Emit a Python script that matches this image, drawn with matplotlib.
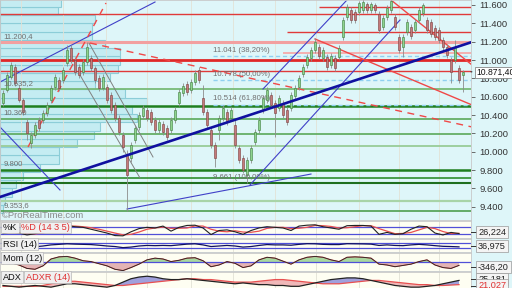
import matplotlib
matplotlib.use('Agg')
import matplotlib.pyplot as plt
import numpy as np

plt.rcParams['font.family'] = ['Liberation Sans', 'DejaVu Sans']

# ============================================================
# data
# ============================================================
opens = [10531, 10673, 10815, 10924, 10695, 10564, 10324, 10095, 10182, 10346,
         10346, 10422, 10564, 10706, 10782, 10782, 10967, 11131, 11000, 10924,
         10869, 10978, 11022, 10913, 10804, 10695, 10706, 10619, 10510, 10368,
         10182, 9964, 9932, 10128, 10270, 10390, 10455, 10433, 10346, 10237,
         10302, 10259, 10237, 10346, 10531, 10640, 10738, 10673, 10760, 10891,
         10586, 10433, 10237, 10073, 10237, 10368, 10433, 10368, 10292, 10041,
         9932, 9747, 9910, 10106, 10237, 10455, 10564, 10619, 10531, 10477,
         10531, 10455, 10477, 10608, 10706, 10847, 10946, 11022, 11109, 11142,
         11022, 11033, 10946, 11022, 11033, 11251, 11469, 11545, 11523, 11523,
         11545, 11610, 11545, 11600, 11501, 11360, 11469, 11545, 11469, 11251,
         11142, 11305, 11360, 11327, 11436, 11512, 11436, 11414, 11349, 11327,
         11218, 11142, 11000, 11000, 10913, 10836]
closes = [10640, 10836, 10946, 10749, 10564, 10433, 10204, 10182, 10292, 10259,
          10422, 10510, 10695, 10815, 10695, 10891, 11109, 11000, 10869, 10836,
          10978, 11142, 10913, 10782, 10695, 10815, 10564, 10455, 10368, 10215,
          10052, 9747, 10073, 10259, 10401, 10477, 10368, 10324, 10237, 10324,
          10215, 10161, 10346, 10455, 10651, 10717, 10651, 10760, 10858, 10782,
          10433, 10292, 10073, 9932, 10368, 10477, 10324, 10455, 10073, 9910,
          9801, 9910, 10041, 10215, 10346, 10586, 10673, 10510, 10422, 10586,
          10401, 10324, 10619, 10695, 10804, 10924, 11033, 11109, 11196, 11044,
          11109, 10924, 11044, 10913, 11131, 11436, 11578, 11436, 11436, 11621,
          11632, 11545, 11610, 11545, 11327, 11458, 11567, 11643, 11360, 11109,
          11251, 11414, 11262, 11414, 11545, 11600, 11327, 11283, 11251, 11218,
          11142, 11055, 10869, 11142, 10782, 10871.4]
highs = [10673, 10869, 10978, 10956, 10728, 10586, 10368, 10215, 10324, 10379,
         10455, 10542, 10728, 10847, 10815, 10924, 11164, 11164, 11033, 10956,
         11011, 11196, 11055, 10935, 10836, 10847, 10738, 10651, 10542, 10401,
         10215, 10019, 10106, 10292, 10433, 10510, 10488, 10466, 10379, 10357,
         10335, 10292, 10379, 10488, 10684, 10749, 10771, 10793, 10891, 10924,
         10728, 10466, 10270, 10106, 10401, 10510, 10466, 10488, 10346, 10073,
         9964, 9943, 10073, 10248, 10379, 10619, 10706, 10651, 10564, 10619,
         10564, 10488, 10651, 10728, 10836, 10956, 11065, 11142, 11240, 11174,
         11142, 11065, 11076, 11055, 11164, 11469, 11610, 11578, 11556, 11643,
         11654, 11632, 11632, 11621, 11534, 11490, 11600, 11654, 11501, 11283,
         11283, 11447, 11392, 11447, 11578, 11621, 11469, 11447, 11381, 11360,
         11251, 11174, 11033, 11218, 10946, 10891]
lows = [10499, 10651, 10793, 10717, 10542, 10401, 10128, 10041, 10150, 10226,
        10313, 10390, 10531, 10673, 10662, 10749, 10935, 10967, 10836, 10804,
        10836, 10946, 10880, 10749, 10662, 10673, 10531, 10422, 10335, 10182,
        9997, 9353.6, 9888, 10095, 10237, 10357, 10335, 10292, 10204, 10204,
        10182, 10128, 10204, 10313, 10499, 10608, 10619, 10640, 10728, 10749,
        10401, 10259, 10041, 9834, 10128, 10335, 10292, 10335, 10041, 9877,
        9768, 9661, 9877, 10073, 10204, 10422, 10531, 10477, 10161, 10444,
        10368, 10292, 10444, 10575, 10673, 10815, 10913, 10989, 11076, 11011,
        10989, 10891, 10913, 10880, 11000, 11218, 11436, 11403, 11403, 11490,
        11512, 11512, 11512, 11512, 11294, 11327, 11436, 11512, 11327, 11076,
        11033, 11273, 11229, 11294, 11403, 11480, 11294, 11251, 11218, 11185,
        11109, 11022, 10749, 10967, 10749, 10651]

# volume by price (bins of 90 points starting at 9330)
vol_bin_low = 9330
vol_bin_size = 90
vol_sizes = [3, 5, 12, 16, 23, 40, 59, 59, 77, 94, 100, 137, 132, 147, 125,
             95, 110, 118, 120, 120, 105, 92, 92, 95, 58, 61]

# horizontal resistance / support levels: (price, first candle)
res_levels = [11578, 11500, 11300, 11200, 11080, 11000, 10880]
res_start = [79, -1, 71, -1, 70, -1, -1]
res_colors = ['#e03a3a', '#e03a3a', '#e03a3a', '#f2a0a0', '#f4b0b0', '#e02828', '#e03a3a']
res_widths = [1.0, 1.0, 1.0, 2.2, 1.4, 2.0, 1.0]

sup_levels = [10680, 10500, 10360, 10190, 10060, 9800, 9715, 9660, 9465, 9354]
sup_colors = ['#78bb78', '#1f7f1f', '#5aa85a', '#5aa85a', '#98cc98', '#1f7f1f',
              '#2f8f2f', '#1f6f1f', '#a8d4a8', '#4f9f4f']
sup_widths = [1.3, 1.8, 1.2, 1.2, 1.3, 1.8, 1.2, 1.5, 1.6, 1.2]

fib_levels = [11041, 10778, 10514]
fib_labels = ['11.041 (38,20%)', '10.778 (50,00%)', '10.514 (61,80%)', '9.661 (100,00%)']
fib_label_prices = [11041, 10778, 10514, 9661]
fib_start = 52.5

left_labels = ['11.200,4', '10.635,2', '10.360', '9.800', '9.353,6']
left_label_prices = [11200, 10680, 10360, 9800, 9354]

# trend lines: (candle0, price0, candle1, price1)
blue_thin = [(-0.75, 10760, 38, 11632),
             (-0.75, 10270, 14.25, 9583),
             (31, 9376, 77, 9757),
             (61.75, 9638, 99.25, 11436),
             (65, 10684, 86, 11654)]
blue_thick = [(-0.75, 9507, 117.25, 11196)]
gray_lines = [(21.5, 11185, 37.5, 9943),
              (19.25, 10836, 34.25, 9714)]
red_dashed = [(6.25, 10052, 25.75, 11621),
              (21.75, 11185, 117.25, 10270)]
red_solid = [(78, 11229, 117.25, 10510),
             (97, 11654, 117.25, 10946)]

month_idx = [4.5, 15, 25.75, 36, 47, 57.5, 68, 78.25, 89, 99, 109]
price_ticks = [9400, 9600, 9800, 10000, 10200, 10400, 10600, 10800, 11000, 11200, 11400, 11600]

# indicators, one value every 2 candles
stoch_k = [25, 40, 30, 15, 25, 45, 70, 85, 90, 80, 75, 60, 45, 30, 10, 8, 40, 65, 75, 70,
           85, 45, 75, 90, 92, 70, 18, 50, 55, 40, 20, 50, 70, 80, 75, 70, 50, 85, 92, 95,
           80, 70, 60, 88, 90, 90, 85, 20, 35, 20, 25, 60, 85, 80, 30, 15, 35, 26]
stoch_d = [30, 33, 32, 25, 23, 30, 48, 68, 82, 85, 80, 72, 60, 45, 30, 16, 20, 38, 60, 70,
           77, 67, 68, 70, 86, 85, 60, 45, 40, 48, 38, 36, 45, 67, 75, 75, 65, 68, 75, 90,
           88, 82, 70, 72, 80, 88, 88, 65, 45, 25, 27, 35, 55, 75, 65, 42, 26, 28]
rsi = [45, 55, 45, 35, 38, 45, 55, 60, 65, 62, 60, 58, 52, 45, 40, 30, 35, 45, 50, 48,
       50, 48, 55, 62, 65, 55, 40, 45, 50, 45, 35, 40, 50, 58, 55, 55, 52, 60, 66, 65,
       60, 58, 58, 66, 65, 64, 62, 50, 55, 50, 48, 55, 60, 55, 48, 42, 40, 37]
mom = [-150, -50, -300, -700, -800, -400, 400, 650, 700, 500, 200, 100, -150, -400, -800,
       -950, -600, -200, 300, 500, 400, 100, 250, 500, 550, 200, -500, -300, 100, -100,
       -600, -400, 300, 600, 500, 150, -200, 300, 600, 700, 600, 300, 100, 600, 650,
       600, 500, -200, -300, -500, -350, -200, 100, 300, -300, -600, -700, -346]
adx = [20, 19, 18, 19, 20, 19, 18, 20, 22, 22, 21, 20, 19, 18, 20, 24, 28, 30, 31, 30,
       28, 27, 27, 28, 27, 26, 25, 24, 23, 22, 23, 22, 21, 21, 20, 20, 19, 19, 21, 23,
       25, 27, 28, 29, 29, 28, 26, 24, 22, 20, 19, 18, 18, 19, 20, 22, 24, 26]
adxr = [19, 19, 19, 19, 19, 20, 22, 24, 25, 25, 24, 23, 22, 21, 20, 20, 21, 22, 23, 24,
        25, 26, 27, 28, 28, 27, 27, 26, 25, 24, 24, 24, 25, 26, 27, 27, 26, 25, 24, 23,
        22, 22, 22, 23, 24, 25, 26, 26, 25, 24, 23, 22, 21, 21, 20, 20, 20.5, 21]

# ============================================================
# layout helpers (pixel boxes on a 512x288 canvas)
# ============================================================
W, H = 512, 288
IVORY = '#fefef2'


def rect(x0, y0, x1, y1):
    return [x0 / W, 1 - y1 / H, (x1 - x0) / W, (y1 - y0) / H]


def fmt_price(v):
    return f'{v:,.0f}'.replace(',', '.')


fig = plt.figure(figsize=(W / 100, H / 100), dpi=100)
fig.patch.set_facecolor('#def6f9')

XMIN, XMAX = -0.75, 117
YMIN, YMAX = 9256, 11654

# volume profile behind the price chart
vp = fig.add_axes(rect(0, 0, 471, 220), label='vp')
vp.set_facecolor(IVORY)
bins = vol_bin_low + vol_bin_size * np.arange(len(vol_sizes))
vp.barh(bins, vol_sizes, height=vol_bin_size, align='edge', color='#c4ecf2',
        edgecolor='#8ccdd8', linewidth=0.8)
vp.set_xlim(0, 471)
vp.set_ylim(YMIN, YMAX)
vp.axis('off')

ax = fig.add_axes(rect(0, 0, 471, 220), label='main')
ax.set_facecolor('none')
ax.set_xlim(XMIN, XMAX)
ax.set_ylim(YMIN, YMAX)

for m in month_idx:
    ax.axvline(m, color='#e2e2d6', lw=0.6, zorder=0)

# horizontal levels
for p, s, c, w in zip(res_levels, res_start, res_colors, res_widths):
    ax.hlines(p, s, XMAX, colors=c, lw=w, zorder=1)
for p, c, w in zip(sup_levels, sup_colors, sup_widths):
    ax.hlines(p, XMIN, XMAX, colors=c, lw=w, zorder=1)
for p in fib_levels:
    ax.hlines(p, fib_start, XMAX, colors='#8fd0f0', lw=1.0, linestyles=(0, (3, 2)), zorder=1)
for t, p in zip(fib_labels, fib_label_prices):
    ax.text(fib_start, p + 25, t, fontsize=5.6, color='#707070', va='bottom', ha='left', zorder=6)
for t, p in zip(left_labels, left_label_prices):
    ax.text(0.2, p + 20, t, fontsize=5.6, color='#707070', va='bottom', ha='left', zorder=6)

# trend lines
for x0, y0, x1, y1 in blue_thin:
    ax.plot([x0, x1], [y0, y1], color='#4040c8', lw=0.8, zorder=2)
for x0, y0, x1, y1 in blue_thick:
    ax.plot([x0, x1], [y0, y1], color='#1010a0', lw=1.9, zorder=5)
for x0, y0, x1, y1 in gray_lines:
    ax.plot([x0, x1], [y0, y1], color='#808080', lw=0.7, zorder=2)
for x0, y0, x1, y1 in red_dashed:
    ax.plot([x0, x1], [y0, y1], color='#f04848', lw=1.0, dashes=(5, 4), zorder=2)
for x0, y0, x1, y1 in red_solid:
    ax.plot([x0, x1], [y0, y1], color='#f04848', lw=1.0, zorder=2)

# candles
o = np.array(opens, float)
c = np.array(closes, float)
idx = np.arange(len(c))
up = c >= o
ax.vlines(idx, lows, highs, color='#8c8c8c', lw=0.6, zorder=3)
ax.bar(idx[up], (c - o)[up], bottom=o[up], width=0.62, color='#8ed48e',
       edgecolor='#3c7a3c', lw=0.4, zorder=4)
ax.bar(idx[~up], (c - o)[~up], bottom=o[~up], width=0.62, color='#c47a7a',
       edgecolor='#7a3c3c', lw=0.4, zorder=4)

ax.text(0.004, 0.0, '\u00a9ProRealTime.com', transform=ax.transAxes, fontsize=6.8,
        color='#8a8a8a', va='bottom', ha='left')

ax.set_xticks([])
ax.yaxis.tick_right()
ax.set_yticks(price_ticks)
ax.set_yticklabels([fmt_price(v) for v in price_ticks])
ax.tick_params(axis='y', length=3, width=0.6, color='#555555', labelsize=6.8,
               labelcolor='#333333', pad=3)
for sp in ax.spines.values():
    sp.set_color('#c8c8c8')
    sp.set_linewidth(0.6)

# current price box
last = closes[-1]
last_txt = f'{last:,.2f}'.replace(',', 'X').replace('.', ',').replace('X', '.')
ax.annotate(last_txt, xy=(XMAX, last), xycoords='data', xytext=(476, H - 72.5),
            textcoords='figure pixels', fontsize=6.2, color='#111111', va='center', ha='left',
            annotation_clip=False,
            bbox=dict(boxstyle='square,pad=0.12', fc='#ffffff', ec='#888888', lw=0.6),
            arrowprops=dict(arrowstyle='-', color='#222222', lw=0.8), zorder=10)


# ============================================================
# indicator panels
# ============================================================
ix = np.arange(0, len(closes), 2)[:len(stoch_k)]


def panel(y0, y1, ylim):
    a = fig.add_axes(rect(0, y0, 471, y1))
    a.set_facecolor(IVORY)
    a.set_xlim(XMIN, XMAX)
    a.set_ylim(*ylim)
    a.set_xticks([])
    a.set_yticks([])
    for m in month_idx:
        a.axvline(m, color='#e2e2d6', lw=0.6, zorder=0)
    for sp in a.spines.values():
        sp.set_color('#c8c8c8')
        sp.set_linewidth(0.6)
    return a


def tag(a, parts, y=0.5):
    x = 0.006
    for text, col in parts:
        t = a.text(x, y, text, transform=a.transAxes, fontsize=6.6, color=col, va='center',
                   ha='left', zorder=8,
                   bbox=dict(boxstyle='square,pad=0.15', fc='#f0f0f0', ec='#b8b8b8', lw=0.5))
        fig.canvas.draw()
        bb = t.get_window_extent()
        x = a.transAxes.inverted().transform((bb.x1 + 4, 0))[0]


def value_box(y, text, col='#222222'):
    fig.text(478 / W, 1 - y / H, text, fontsize=6.6, color=col, va='center', ha='left',
             bbox=dict(boxstyle='square,pad=0.18', fc='#f4f4f4', ec='#999999', lw=0.5))
    fig.add_artist(plt.Line2D([471 / W, 476 / W], [1 - y / H, 1 - y / H], color='#333333', lw=0.7))


s_ax = panel(221, 238, (-9, 125))
s_ax.axhline(80, color='#5050d8', lw=0.9)
s_ax.axhline(20, color='#5050d8', lw=0.9)
s_ax.plot(ix, stoch_d, color='#e85050', lw=0.9)
s_ax.plot(ix, stoch_k, color='#222222', lw=0.8)
tag(s_ax, [('%K', '#111111'), ('%D (14 3 5)', '#e03030')], y=0.62)
value_box(232, '26,224')

r_ax = panel(239, 252, (-10, 109))
r_ax.axhline(70, color='#5050d8', lw=0.9)
r_ax.axhline(30, color='#5050d8', lw=0.9)
r_ax.plot(ix, rsi, color='#101060', lw=0.9)
tag(r_ax, [('RSI (14)', '#111111')], y=0.6)
value_box(246, '36,975')

m_ax = panel(253, 271, (-1000, 1100))
m = np.array(mom, float)
m_ax.fill_between(ix, m, 0, where=m >= 0, interpolate=True, color='#a8d8a0', lw=0)
m_ax.fill_between(ix, m, 0, where=m < 0, interpolate=True, color='#e4b4b4', lw=0)
m_ax.axhline(0, color='#5050d8', lw=0.9)
m_ax.plot(ix, m, color='#e86060', lw=0.8)
m_ax.plot(ix, m, color='#222222', lw=0.6)
tag(m_ax, [('Mom (12)', '#111111')], y=0.72)
value_box(267, '-346,20')

a_ax = panel(272, 296, (7.5, 36))
ad = np.array(adx, float)
ar = np.array(adxr, float)
a_ax.fill_between(ix, ad, ar, where=ad >= ar, interpolate=True, color='#a0a0dc', lw=0)
a_ax.fill_between(ix, ad, ar, where=ad < ar, interpolate=True, color='#f0b8b8', lw=0)
a_ax.plot(ix, ar, color='#e85050', lw=0.9)
a_ax.plot(ix, ad, color='#222222', lw=0.9)
tag(a_ax, [('ADX', '#111111'), ('ADXR (14)', '#e03030')], y=0.78)
value_box(279, '25,181')
value_box(285.5, '21,027', col='#e03030')

fig.savefig('out.png', dpi=100, facecolor=fig.get_facecolor())
